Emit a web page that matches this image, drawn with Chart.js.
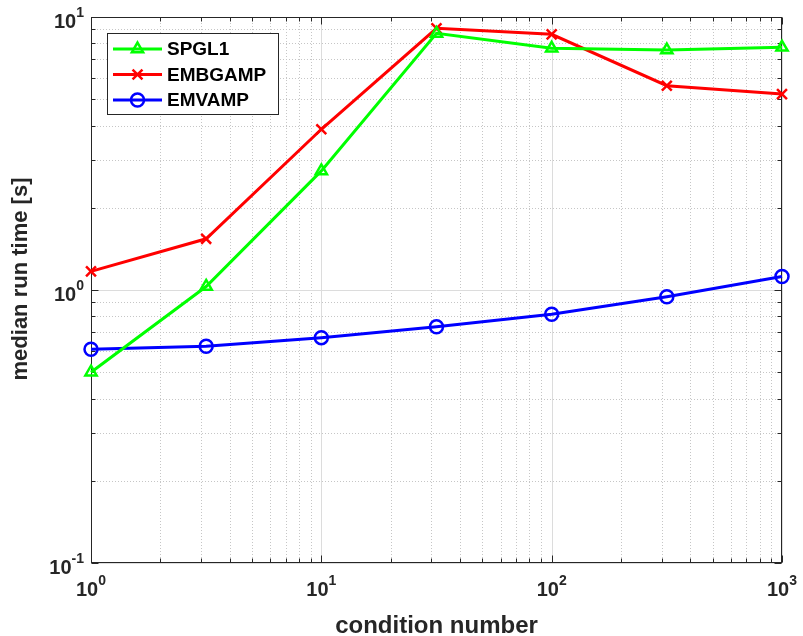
<!DOCTYPE html>
<html>
<head>
<meta charset="utf-8">
<script src="https://cdn.jsdelivr.net/npm/chart.js@4.4.0/dist/chart.umd.min.js"></script>
<style>
  html, body { margin: 0; padding: 0; background: #ffffff; }
  #wrap { width: 803px; height: 636px; position: relative; }
  canvas { display: block; }
</style>
</head>
<body>
<div id="wrap"><canvas id="c" width="803" height="636"></canvas></div>
<script>
// ---- data ----
const conditionNumbers = [1, 3.162, 10, 31.62, 100, 316.2, 1000];
const spgl1   = [0.50, 1.03, 2.73, 8.71, 7.68, 7.57, 7.74];
const embgamp = [1.17, 1.54, 3.88, 9.09, 8.64, 5.60, 5.22];
const emvamp  = [0.607, 0.622, 0.669, 0.734, 0.815, 0.945, 1.12];

const seriesNames = ['SPGL1', 'EMBGAMP', 'EMVAMP'];
const xTickValues = [1, 10, 100, 1000];
const xTickExponents = ['0', '1', '2', '3'];
const yTickValues = [0.1, 1, 10];
const yTickExponents = ['-1', '0', '1'];
const xTitle = 'condition number';
const yTitle = 'median run time [s]';

const FONT = '"Liberation Sans", Arial, Helvetica, sans-serif';
const AXIS_COLOR = '#262626';

function toPoints(ys) { return conditionNumbers.map((x, i) => ({ x: x, y: ys[i] })); }

function minorValues(min, max) {
  const out = [];
  for (let e = Math.floor(Math.log10(min)); e <= Math.ceil(Math.log10(max)); e++) {
    for (let m = 1; m <= 9; m++) {
      const v = m * Math.pow(10, e);
      if (v >= min * 0.9999 && v <= max * 1.0001) out.push({ v: v, major: m === 1 });
    }
  }
  return out;
}

const axesPlugin = {
  id: 'matlabAxes',
  beforeDatasetsDraw(chart) {
    const ctx = chart.ctx;
    const a = chart.chartArea;
    const xs = chart.scales.x, ys = chart.scales.y;
    const xv = minorValues(xs.min, xs.max);
    const yv = minorValues(ys.min, ys.max);
    ctx.save();
    // minor grid (dotted)
    ctx.lineWidth = 1;
    ctx.strokeStyle = '#c6c6c6';
    ctx.setLineDash([1, 2]);
    xv.forEach(t => {
      if (t.major) return;
      const px = Math.round(xs.getPixelForValue(t.v)) + 0.5;
      ctx.beginPath(); ctx.moveTo(px, a.top); ctx.lineTo(px, a.bottom); ctx.stroke();
    });
    yv.forEach(t => {
      if (t.major) return;
      const py = Math.round(ys.getPixelForValue(t.v)) + 0.5;
      ctx.beginPath(); ctx.moveTo(a.left, py); ctx.lineTo(a.right, py); ctx.stroke();
    });
    // major grid (solid)
    ctx.setLineDash([]);
    ctx.strokeStyle = '#dcdcdc';
    xv.forEach(t => {
      if (!t.major) return;
      const px = Math.round(xs.getPixelForValue(t.v)) + 0.5;
      ctx.beginPath(); ctx.moveTo(px, a.top); ctx.lineTo(px, a.bottom); ctx.stroke();
    });
    yv.forEach(t => {
      if (!t.major) return;
      const py = Math.round(ys.getPixelForValue(t.v)) + 0.5;
      ctx.beginPath(); ctx.moveTo(a.left, py); ctx.lineTo(a.right, py); ctx.stroke();
    });
    // box
    ctx.strokeStyle = AXIS_COLOR;
    ctx.lineWidth = 1;
    const L = Math.round(a.left) + 0.5, R = Math.round(a.right) - 0.5;
    const T = Math.round(a.top) + 0.5, B = Math.round(a.bottom) - 0.5;
    ctx.strokeRect(L, T, R - L, B - T);
    // tick marks, inward, on all four sides
    xv.forEach(t => {
      const len = t.major ? 7 : 4;
      const px = Math.round(xs.getPixelForValue(t.v)) + 0.5;
      ctx.beginPath();
      ctx.moveTo(px, B); ctx.lineTo(px, B - len);
      ctx.moveTo(px, T); ctx.lineTo(px, T + len);
      ctx.stroke();
    });
    yv.forEach(t => {
      const len = t.major ? 7 : 4;
      const py = Math.round(ys.getPixelForValue(t.v)) + 0.5;
      ctx.beginPath();
      ctx.moveTo(L, py); ctx.lineTo(L + len, py);
      ctx.moveTo(R, py); ctx.lineTo(R - len, py);
      ctx.stroke();
    });
    // tick labels with superscripts
    ctx.fillStyle = AXIS_COLOR;
    ctx.textBaseline = 'alphabetic';
    ctx.textAlign = 'left';
    const mainFont = 'bold 20px ' + FONT, supFont = 'bold 14px ' + FONT;
    xTickValues.forEach((v, i) => {
      const px = xs.getPixelForValue(v);
      ctx.font = mainFont; const mw = ctx.measureText('10').width;
      ctx.font = supFont; const sw = ctx.measureText(xTickExponents[i]).width;
      const x0 = px - (mw + sw) / 2;
      const base = a.bottom + 33;
      ctx.font = mainFont; ctx.fillText('10', x0, base);
      ctx.font = supFont; ctx.fillText(xTickExponents[i], x0 + mw, base - 11);
    });
    yTickValues.forEach((v, i) => {
      const py = ys.getPixelForValue(v);
      ctx.font = mainFont; const mw = ctx.measureText('10').width;
      ctx.font = supFont; const sw = ctx.measureText(yTickExponents[i]).width;
      const right = a.left - 7;
      const x0 = right - mw - sw;
      const base = py + 11;
      ctx.font = mainFont; ctx.fillText('10', x0, base);
      ctx.font = supFont; ctx.fillText(yTickExponents[i], x0 + mw, base - 11);
    });
    // axis titles
    ctx.font = 'bold 24px ' + FONT;
    ctx.textAlign = 'center';
    ctx.fillText(xTitle, (a.left + a.right) / 2, 633);
    ctx.save();
    ctx.translate(27, 279);
    ctx.rotate(-Math.PI / 2);
    ctx.font = 'bold 22px ' + FONT;
    ctx.fillText(yTitle, 0, 0);
    ctx.restore();
    ctx.restore();
  },
  afterDraw(chart) {
    const ctx = chart.ctx;
    ctx.save();
    // legend box
    const bx = 107.5, by = 33.5, bw = 171, bh = 81;
    ctx.fillStyle = '#ffffff';
    ctx.fillRect(bx, by, bw, bh);
    ctx.strokeStyle = AXIS_COLOR;
    ctx.lineWidth = 1;
    ctx.strokeRect(bx, by, bw, bh);
    const rows = [49, 74.5, 100];
    chart.data.datasets.forEach((ds, i) => {
      const y = rows[i];
      ctx.strokeStyle = ds.borderColor;
      ctx.lineWidth = 3;
      ctx.setLineDash([]);
      ctx.beginPath(); ctx.moveTo(113, y); ctx.lineTo(162, y); ctx.stroke();
      ctx.fillStyle = 'rgba(0,0,0,0)';
      ctx.lineWidth = ds.pointBorderWidth;
      Chart.helpers.drawPoint(ctx, {
        pointStyle: ds.pointStyle,
        radius: ds.pointRadius,
        borderWidth: ds.pointBorderWidth,
        rotation: 0
      }, 137.5, y);
      ctx.fillStyle = '#000000';
      ctx.font = 'bold 19px ' + FONT;
      ctx.textAlign = 'left';
      ctx.textBaseline = 'middle';
      ctx.fillText(ds.label, 167, y + 1);
    });
    ctx.restore();
  }
};

const ctxEl = document.getElementById('c');
const chart = new Chart(ctxEl, {
  type: 'scatter',
  data: {
    datasets: [
      {
        label: seriesNames[0], data: toPoints(spgl1),
        borderColor: '#00ff00', backgroundColor: 'rgba(0,0,0,0)',
        pointBorderColor: '#00ff00', pointBackgroundColor: 'rgba(0,0,0,0)',
        pointStyle: 'triangle', pointRadius: 6.5, pointBorderWidth: 2.5,
        borderWidth: 3, showLine: true, tension: 0, clip: false
      },
      {
        label: seriesNames[1], data: toPoints(embgamp),
        borderColor: '#ff0000', backgroundColor: 'rgba(0,0,0,0)',
        pointBorderColor: '#ff0000', pointBackgroundColor: 'rgba(0,0,0,0)',
        pointStyle: 'crossRot', pointRadius: 7, pointBorderWidth: 2.5,
        borderWidth: 3, showLine: true, tension: 0, clip: false
      },
      {
        label: seriesNames[2], data: toPoints(emvamp),
        borderColor: '#0000ff', backgroundColor: 'rgba(0,0,0,0)',
        pointBorderColor: '#0000ff', pointBackgroundColor: 'rgba(0,0,0,0)',
        pointStyle: 'circle', pointRadius: 6.5, pointBorderWidth: 2.5,
        borderWidth: 3, showLine: true, tension: 0, clip: false
      }
    ]
  },
  options: {
    responsive: false,
    animation: false,
    events: [],
    layout: { padding: { left: 91, right: 21, top: 17, bottom: 73 } },
    plugins: { legend: { display: false }, tooltip: { enabled: false } },
    elements: { point: { hoverRadius: 0 } },
    scales: {
      x: {
        type: 'logarithmic', min: 1, max: 1000,
        grid: { display: false, drawTicks: false },
        border: { display: false },
        ticks: { display: false }
      },
      y: {
        type: 'logarithmic', min: 0.1, max: 10,
        grid: { display: false, drawTicks: false },
        border: { display: false },
        ticks: { display: false }
      }
    }
  },
  plugins: [axesPlugin]
});
</script>
</body>
</html>
